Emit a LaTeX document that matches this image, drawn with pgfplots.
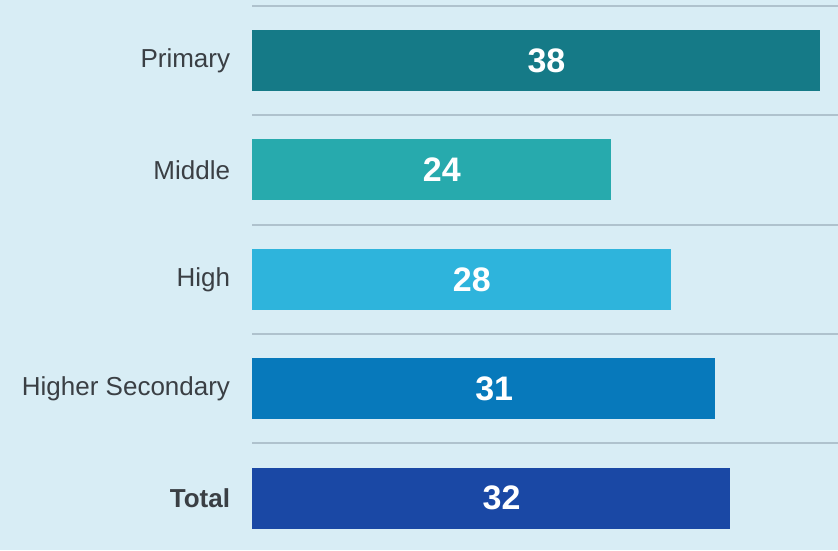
\documentclass[border=0pt]{standalone}
\usepackage{pgfplots}
\usepackage{pgfplotstable}
\pgfplotsset{compat=1.18}
\usepackage{fontspec}
\setmainfont{Liberation Sans}
\definecolor{bgc}{HTML}{D8EDF5}
\definecolor{gridc}{HTML}{AFC2CD}
\definecolor{cA}{HTML}{157A87}
\definecolor{cB}{HTML}{27AAAD}
\definecolor{cC}{HTML}{2EB4DC}
\definecolor{cD}{HTML}{0779BB}
\definecolor{cE}{HTML}{1A48A5}
\definecolor{labc}{HTML}{3A3F44}
\pgfplotstableread{
y x label
0 38 38
1 24 24
2 28 28
3 31 31
4 32 32
}\data
\begin{document}
\begin{tikzpicture}
\useasboundingbox (0,0) rectangle (419pt,275pt);
\fill[bgc] (0,0) rectangle (419pt,275pt);
\begin{axis}[
  at={(126pt,0pt)}, anchor=south west,
  scale only axis, width=293pt, height=275pt,
  xmin=0, xmax=39.2,
  ymin=-0.553, ymax=4.474, y dir=reverse,
  xbar, bar shift=0pt, bar width=30.5pt,
  axis line style={draw=none},
  tick style={draw=none},
  xtick=\empty,
  ytick={0,1,2,3,4},
  yticklabels={Primary,Middle,High,Higher Secondary,\textbf{Total}},
  yticklabel style={font=\fontsize{13}{15}\selectfont, text=labc, inner sep=0pt, xshift=-6.5pt},
  minor ytick={-0.5,0.5,1.5,2.5,3.5},
  yminorgrids=true,
  minor grid style={draw=gridc, line width=1pt},
  clip=false,
]
\addplot[fill=cA, draw=none] coordinates {(38,0)};
\addplot[fill=cB, draw=none] coordinates {(24,1)};
\addplot[fill=cC, draw=none] coordinates {(28,2)};
\addplot[fill=cD, draw=none] coordinates {(31,3)};
\addplot[fill=cE, draw=none] coordinates {(32,4)};
\addplot[xbar=false, only marks, mark=*, mark size=0pt, mark options={draw=none, fill=none},
  nodes near coords, point meta=explicit symbolic,
  every node near coord/.style={anchor=center, text=white, font=\fontsize{17}{19}\selectfont\bfseries}]
  table[x expr=\thisrow{x}/2+0.7, y=y, meta=label] {\data};
\end{axis}
\end{tikzpicture}
\end{document}
